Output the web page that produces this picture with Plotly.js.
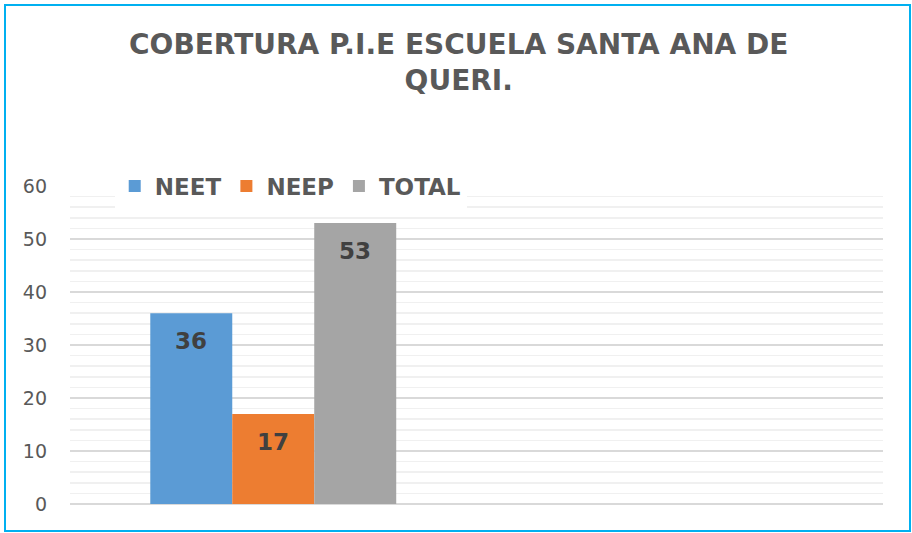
<!DOCTYPE html>
<html>
<head>
<meta charset="utf-8">
<script src="https://cdn.plot.ly/plotly-3.0.1.min.js"></script>
<style>
  body { margin: 0; background: #fff; }
  #plotArea { width: 912px; height: 533px; }
  #frame {
    position: absolute; left: 4px; top: 4px; width: 903px; height: 524px;
    border: 2px solid #00B0F0; pointer-events: none;
  }
</style>
</head>
<body>
<div id="plotArea"></div>
<div id="frame"></div>
<script>
// data
var categories = ["Escuela Santa Ana de Queri"];
var seriesNames = ["NEET", "NEEP", "TOTAL"];
var neet = [36];
var neep = [17];
var total = [53];
var colors = ["#5B9BD5", "#ED7D31", "#A5A5A5"];

var seriesValues = [neet, neep, total];
var gap = 0.395;

var traces = seriesNames.map(function (name, i) {
    return {
        x: categories,
        y: seriesValues[i],
        name: name,
        type: "bar",
        marker: {color: colors[i]},
        hoverinfo: "y"
    };
});

// value labels just inside the top of each bar
var labels = [];
seriesValues.forEach(function (vals, i) {
    vals.forEach(function (v, j) {
        labels.push({
            x: j - (1 - gap) / 2 + (i + 0.5) * (1 - gap) / 3,
            y: v,
            xref: "x", yref: "y",
            text: String(v),
            showarrow: false,
            yanchor: "middle",
            yshift: -28,
            font: {family: "DejaVu Sans", size: 23, color: "#404040", weight: "bold"}
        });
    });
});

var layout = {
    width: 912,
    height: 533,
    margin: {l: 70, r: 29, t: 186, b: 29},
    paper_bgcolor: "#ffffff",
    plot_bgcolor: "#ffffff",
    title: {
        text: "COBERTURA P.I.E ESCUELA SANTA ANA DE<br>QUERI.",
        font: {family: "DejaVu Sans", size: 28, color: "#595959", weight: "bold"},
        xref: "container", x: 0.503,
        yref: "container", y: 0.899, yanchor: "top"
    },
    barmode: "group",
    bargap: gap,
    bargroupgap: 0,
    showlegend: true,
    legend: {
        orientation: "h",
        x: 0.055, xanchor: "left",
        y: 1, yanchor: "middle",
        bgcolor: "#ffffff",
        font: {family: "DejaVu Sans", size: 23, color: "#595959", weight: "bold"},
        itemwidth: 30,
        tracegroupgap: 0
    },
    xaxis: {
        type: "category",
        range: [-0.5, 1.5],
        showticklabels: false,
        showgrid: false,
        zeroline: false,
        showline: false,
        fixedrange: true
    },
    yaxis: {
        range: [0, 60],
        dtick: 10,
        tick0: 0,
        ticks: "",
        ticklabelstandoff: 22,
        tickfont: {family: "DejaVu Sans", size: 19, color: "#595959"},
        showgrid: true,
        gridcolor: "#d9d9d9",
        gridwidth: 1.5,
        minor: {dtick: 2, showgrid: true, gridcolor: "#f0f0f0", gridwidth: 1.5},
        zeroline: true,
        zerolinecolor: "#d9d9d9",
        zerolinewidth: 1.5,
        showline: false
    },
    annotations: labels
};

Plotly.newPlot("plotArea", traces, layout, {displayModeBar: false, staticPlot: true});
</script>
</body>
</html>
